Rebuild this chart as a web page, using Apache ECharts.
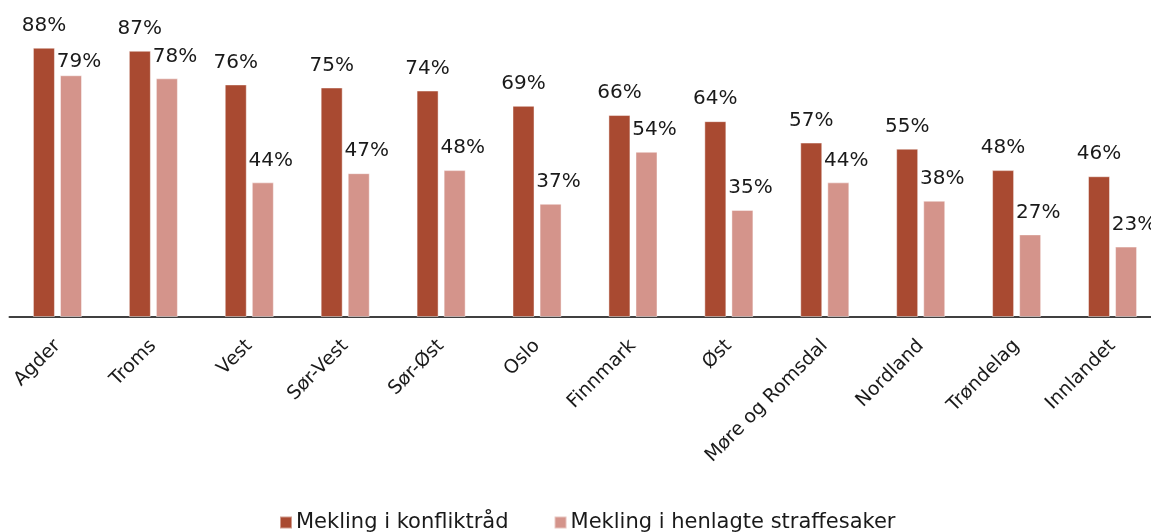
<!DOCTYPE html>
<html>
<head>
<meta charset="utf-8">
<script src="https://cdn.jsdelivr.net/npm/echarts@6/dist/echarts.min.js"></script>
<style>
  html, body { margin: 0; padding: 0; background: #ffffff; }
  #chart { width: 1151px; height: 532px; }
</style>
</head>
<body>
<div id="chart"></div>
<script>
// Regions (x-axis categories)
const regions = ['Agder', 'Troms', 'Vest', 'Sør-Vest', 'Sør-Øst', 'Oslo', 'Finnmark', 'Øst', 'Møre og Romsdal', 'Nordland', 'Trøndelag', 'Innlandet'];

// Share of cases, in percent
const konfliktraad = [88, 87, 76, 75, 74, 69, 66, 64, 57, 55, 48, 46];
const straffesaker = [79, 78, 44, 47, 48, 37, 54, 35, 44, 38, 27, 23];

const seriesNames = ['Mekling i konfliktråd', 'Mekling i henlagte straffesaker'];

const FONT = 'DejaVu Sans';
const TEXT = '#1a1a1a';

const chart = echarts.init(document.getElementById('chart'), null, { renderer: 'canvas' });

const labelBase = {
  show: true,
  position: 'top',
  distance: 12,
  color: TEXT,
  fontFamily: FONT,
  fontSize: 20,
  formatter: p => p.value + '%'
};

chart.setOption({
  animation: false,
  backgroundColor: '#ffffff',
  // plot area runs slightly past the right edge of the canvas
  grid: { left: 9.5, width: 1151, top: 11, bottom: 215, containLabel: false, outerBoundsMode: 'none' },
  legend: {
    left: 274,
    top: 507,
    itemWidth: 12,
    itemHeight: 12,
    itemGap: 45,
    icon: 'rect',
    textStyle: { color: TEXT, fontFamily: FONT, fontSize: 21, padding: [0, 0, 0, -1] },
    data: seriesNames
  },
  xAxis: {
    type: 'category',
    data: regions,
    axisLine: { lineStyle: { color: '#404040', width: 2 } },
    axisTick: { show: false },
    axisLabel: {
      rotate: 45,
      interval: 0,
      margin: 26,
      color: TEXT,
      fontFamily: FONT,
      fontSize: 19
    }
  },
  yAxis: {
    type: 'value',
    min: 0,
    max: 100,
    show: false,
    splitLine: { show: false }
  },
  series: [
    {
      name: seriesNames[0],
      type: 'bar',
      data: konfliktraad,
      barWidth: 22,
      barGap: '23%',
      itemStyle: { color: '#a94a31', borderColor: 'rgba(255,255,255,0.45)', borderWidth: 1 },
      label: labelBase
    },
    {
      name: seriesNames[1],
      type: 'bar',
      data: straffesaker.map((v, i) => i === 0
        ? { value: v, label: { offset: [8, 9] } }
        : v),
      barWidth: 22,
      itemStyle: { color: '#d4948b', borderColor: 'rgba(255,255,255,0.45)', borderWidth: 1 },
      label: Object.assign({}, labelBase, { offset: [8, 0] })
    }
  ]
});
</script>
</body>
</html>
